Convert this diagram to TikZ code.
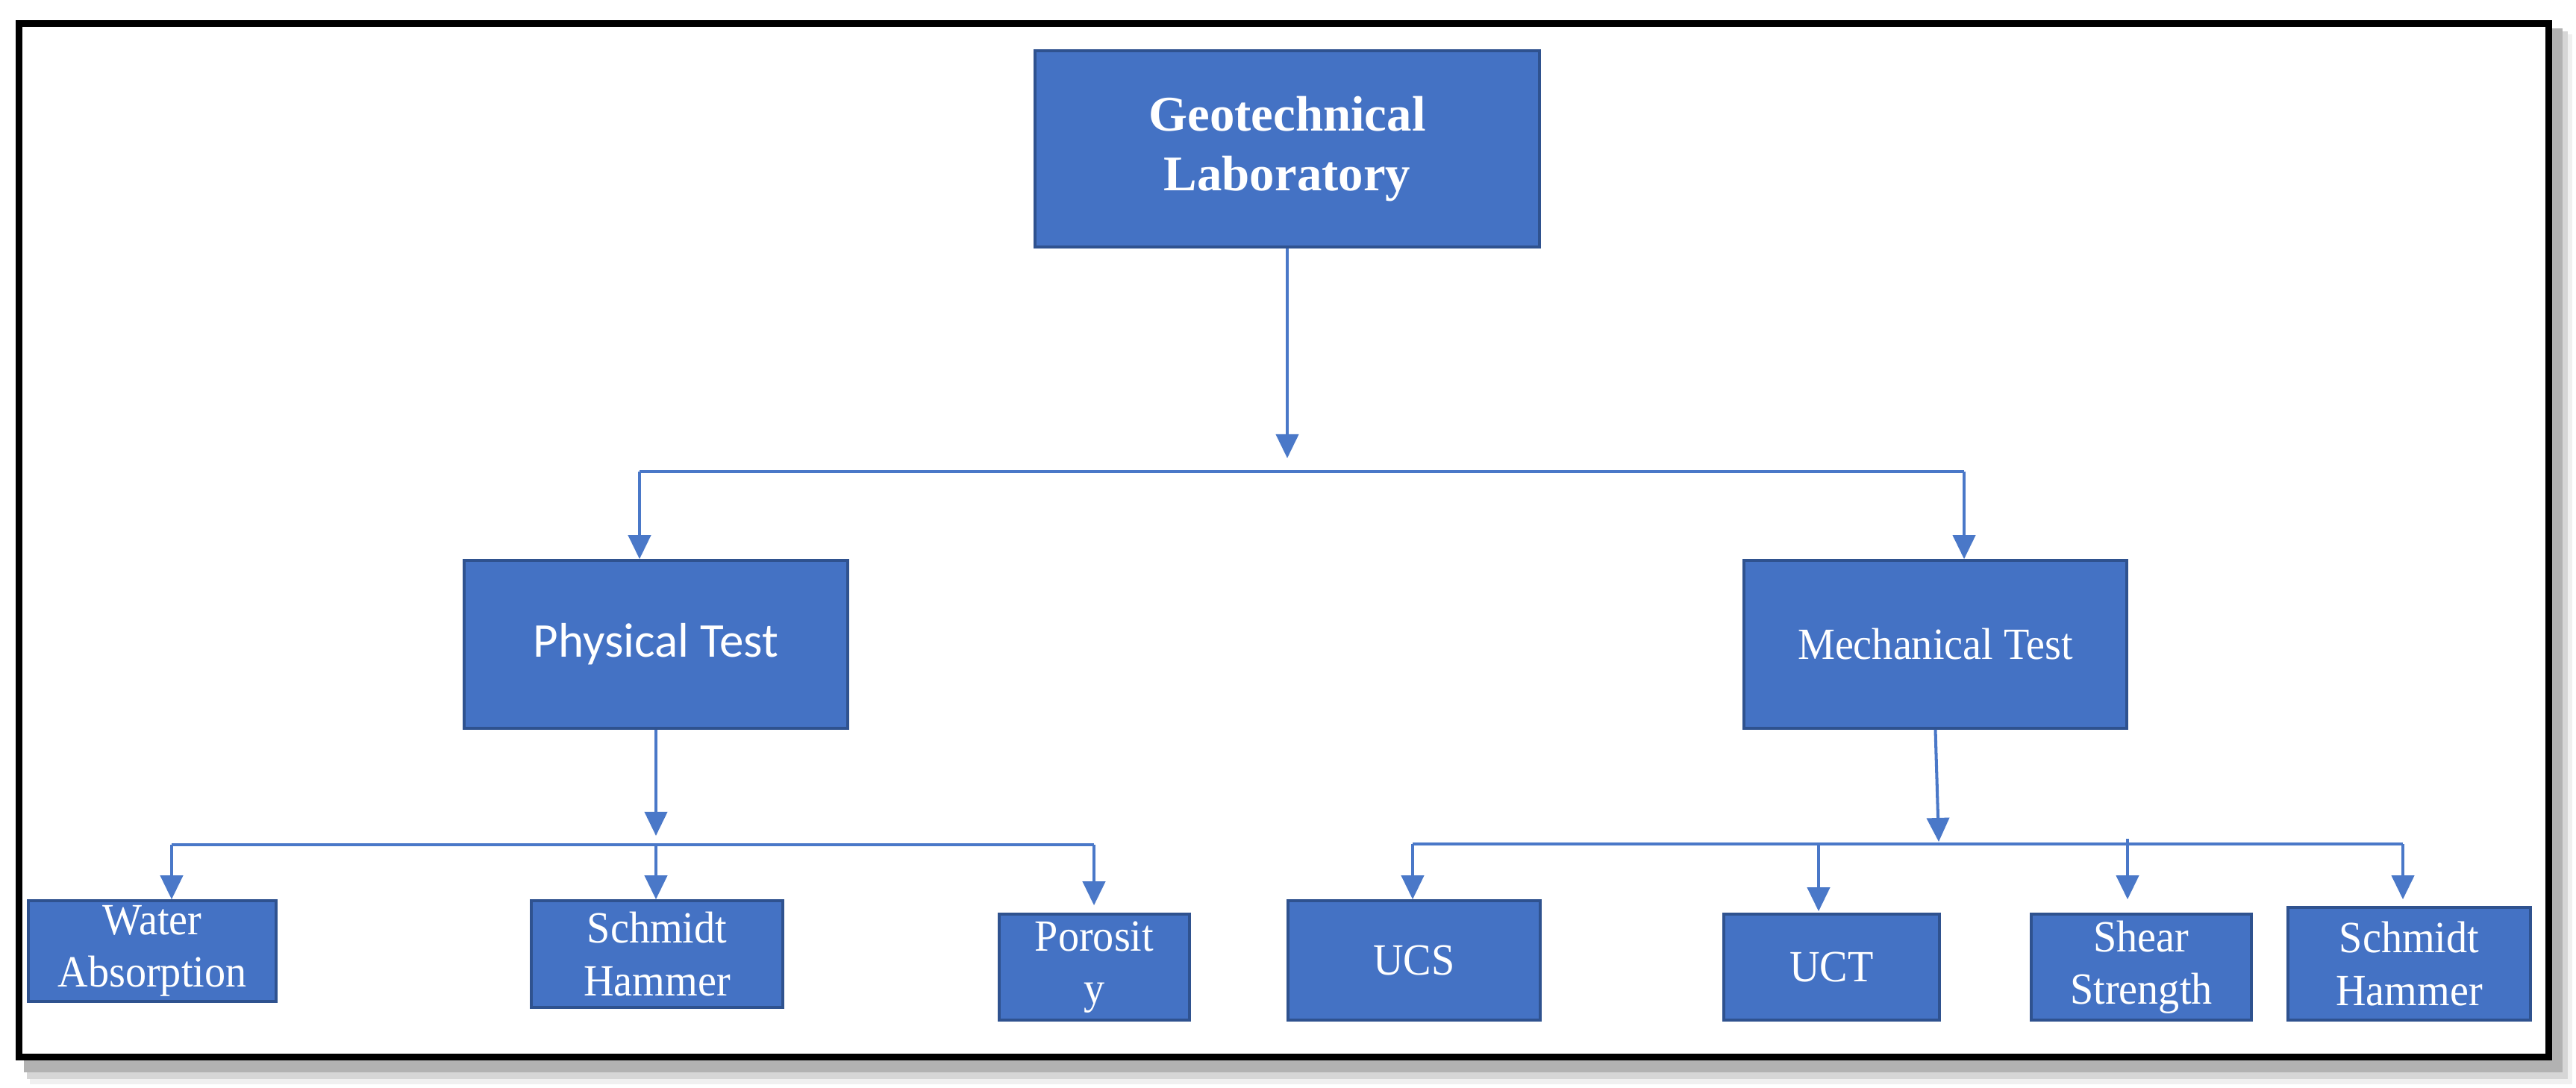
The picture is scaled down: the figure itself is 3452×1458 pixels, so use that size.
\documentclass[tikz,border=0pt]{standalone}
\usepackage{fontspec}
\setmainfont{Liberation Serif}
\newfontfamily\condserif[FakeStretch=0.94]{Liberation Serif}
\newfontfamily\calibrifont{Carlito}
\usetikzlibrary{arrows.meta,calc}
\definecolor{boxblue}{HTML}{4472C4}
\definecolor{boxedge}{HTML}{2F528F}
\definecolor{linkblue}{HTML}{4A78C8}
\begin{document}
\begin{tikzpicture}[x=0.01cm,y=-0.01cm,
  box/.style={draw=boxedge, fill=boxblue, line width=1pt, text=white, align=center, inner sep=0pt,
    font=\condserif\fontsize{17}{20}\selectfont},
  arr/.style={draw=linkblue, line width=1.15pt, -{Triangle[width=0.3cm,length=0.32cm]}},
  bus/.style={draw=linkblue, line width=1.3pt}]
\useasboundingbox (0,0) rectangle (3452,1458);
% frame with shadow
\fill[black!6] (40,46) rectangle (3447,1453);
\fill[black!16] (36,42) rectangle (3441,1446);
\fill[black!30] (32,38) rectangle (3434,1437);
\draw[line width=2.56pt, fill=white] (25.5,31.5) rectangle (3415.5,1416.5);

% nodes
\node[box, minimum width=6.76cm, minimum height=2.63cm,
  font=\bfseries\fontsize{19}{22.5}\selectfont] (top) at (1725,199.5) {Geotechnical\\Laboratory};
\node[box, minimum width=5.14cm, minimum height=2.25cm,
  font=\calibrifont\fontsize{18.5}{22}\selectfont] (phys) at (879,863.5) {Physical Test};
\node[box, minimum width=5.13cm, minimum height=2.25cm] (mech) at (2593.5,863.5) {Mechanical Test};

\node[box, minimum width=3.32cm, minimum height=1.35cm] (water) at (204,1274.5) {Water\\Absorption};
\node[box, minimum width=3.37cm, minimum height=1.43cm] (schP) at (880.5,1278.5) {Schmidt\\Hammer};
\node[box, minimum width=2.55cm, minimum height=1.42cm] (poro) at (1466.5,1296) {Porosit\\y};

\node[box, minimum width=3.38cm, minimum height=1.60cm] (ucs) at (1895,1287) {UCS};
\node[box, minimum width=2.89cm, minimum height=1.42cm] (uct) at (2454.5,1296) {UCT};
\node[box, minimum width=2.95cm, minimum height=1.42cm] (shear) at (2869.5,1296) {Shear\\Strength};
\node[box, minimum width=3.25cm, minimum height=1.51cm] (schM) at (3228.5,1291.5) {Schmidt\\Hammer};

% bus coordinates
\coordinate (tTip) at (1725,614);
\coordinate (b1L) at (857,632);
\coordinate (b1R) at (2632,632);
\coordinate (pTip) at (879,1120);
\coordinate (b2L) at (230,1132);
\coordinate (b2M) at (879,1132);
\coordinate (b2R) at (1466,1132);
\coordinate (mTip) at (2598,1128);
\coordinate (b3L) at (1893,1131);
\coordinate (b3A) at (2437,1131);
\coordinate (b3B) at (2851,1124);
\coordinate (b3R) at (3220,1131);

% connectors level 1
\draw[arr] (top.south) -- (tTip);
\draw[bus] (b1L) -- (b1R);
\draw[arr] (b1L) -- (b1L |- phys.north);
\draw[arr] (b1R) -- (b1R |- mech.north);

% physical branch
\draw[arr] (phys.south) -- (pTip);
\draw[bus] (b2L) -- (b2R);
\draw[arr] (b2L) -- (b2L |- water.north);
\draw[arr] (b2M) -- (b2M |- schP.north);
\draw[arr, shorten >=0.1cm] (b2R) -- (b2R |- poro.north);

% mechanical branch
\draw[arr] (mech.south) -- (mTip);
\draw[bus] (b3L) -- (b3R);
\draw[arr] (b3L) -- (b3L |- ucs.north);
\draw[arr, shorten >=0.02cm] (b3A) -- (b3A |- uct.north);
\draw[arr, shorten >=0.18cm] (b3B) -- (b3B |- shear.north);
\draw[arr, shorten >=0.09cm] (b3R) -- (b3R |- schM.north);
\end{tikzpicture}
\end{document}
